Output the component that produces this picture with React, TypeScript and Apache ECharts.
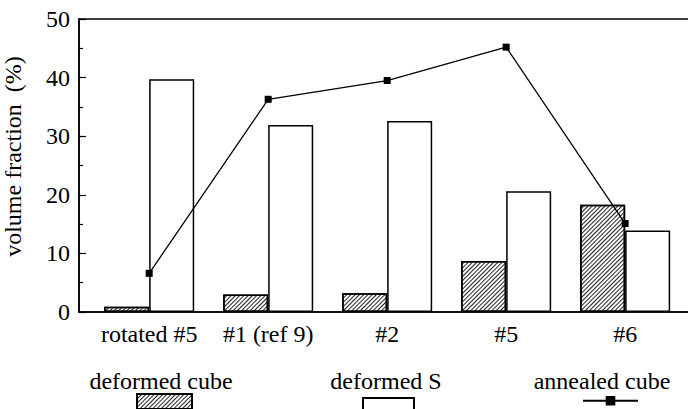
import React, { useEffect, useRef } from "react";
import * as echarts from "echarts";

const categories = ["rotated #5", "#1 (ref 9)", "#2", "#5", "#6"];
const deformedCube = [0.9, 3.0, 3.2, 8.7, 18.3];
const deformedS = [39.7, 31.9, 32.6, 20.6, 13.9];
const annealedCube = [6.6, 36.3, 39.5, 45.2, 15.1];
const yTicks = [0, 10, 20, 30, 40, 50];
const seriesNames = ["deformed cube", "deformed S", "annealed cube"];

const FONT = "'Liberation Serif', 'Times New Roman', serif";
const FS = 24;

export default function App() {
  const ref = useRef<HTMLDivElement>(null);
  useEffect(() => {
    document.body.style.margin = "0";
    if (!ref.current) return;
    const chart = echarts.init(ref.current, null, { renderer: "svg" });
    const idx = categories.map((_, i) => i);
    const legendBase = {
      icon: "rect",
      formatter: () => "",
      padding: 0,
      selectedMode: false,
      textStyle: { fontSize: 4, lineHeight: 4 },
    };
    const legendText = (name: string, cx: number) => ({
      type: "text",
      x: cx,
      y: 369,
      style: { text: name, font: `${FS}px ${FONT}`, fill: "#000", textAlign: "center", textVerticalAlign: "top" },
    });
    chart.setOption({
      animation: false,
      backgroundColor: "#fff",
      textStyle: { fontFamily: FONT, color: "#000" },
      grid: {
        left: 79,
        right: -2,
        top: 19,
        bottom: 97,
        outerBoundsMode: "none",
        containLabel: false,
        show: true,
        borderColor: "#000",
        borderWidth: 1.5,
        backgroundColor: "transparent",
      },
      xAxis: {
        type: "value",
        min: -0.59,
        max: 4.545,
        axisLine: { show: true, onZero: false, lineStyle: { color: "#000", width: 1.5 } },
        axisTick: { show: false },
        splitLine: { show: false },
        axisLabel: {
          customValues: idx,
          formatter: (v: number) => categories[Math.round(v)] ?? "",
          fontFamily: FONT,
          fontSize: FS,
          color: "#000",
          margin: 10,
        },
      },
      yAxis: {
        type: "value",
        min: yTicks[0],
        max: yTicks[yTicks.length - 1],
        interval: 10,
        name: "volume fraction  (%)",
        nameLocation: "middle",
        nameGap: 54,
        nameTextStyle: { fontFamily: FONT, fontSize: FS, color: "#000", padding: [0, 0, 0, 18] },
        axisLine: { show: true, onZero: false, lineStyle: { color: "#000", width: 1.5 } },
        axisTick: { show: true, inside: true, length: 7, lineStyle: { color: "#000", width: 1.2 } },
        minorTick: { show: true, splitNumber: 2, length: 4, lineStyle: { color: "#000", width: 1.2 } },
        splitLine: { show: false },
        axisLabel: { fontFamily: FONT, fontSize: FS, color: "#000", margin: 9 },
      },
      legend: [
        { ...legendBase, data: [seriesNames[0]], left: 136, top: 393, itemWidth: 55, itemHeight: 15 },
        { ...legendBase, data: [seriesNames[1]], left: 362, top: 397, itemWidth: 51, itemHeight: 15 },
        { ...legendBase, icon: undefined, data: [seriesNames[2]], left: 582, top: 396, itemWidth: 55, itemHeight: 12 },
      ],
      graphic: [
        legendText(seriesNames[0], 161),
        legendText(seriesNames[1], 386),
        legendText(seriesNames[2], 602),
      ],
      series: [
        {
          name: seriesNames[0],
          type: "bar",
          data: deformedCube.map((v, i) => [i, v]),
          barWidth: 45,
          barGap: "0%",
          itemStyle: {
            color: "#fff",
            borderColor: "#000",
            borderWidth: 1.5,
            decal: {
              symbol: "rect",
              symbolSize: 1,
              dashArrayX: [[1, 0]],
              dashArrayY: [1, 2],
              rotation: -Math.PI / 4,
              color: "#222",
            },
          },
        },
        {
          name: seriesNames[1],
          type: "bar",
          data: deformedS.map((v, i) => [i, v]),
          barWidth: 45,
          barGap: "0%",
          itemStyle: { color: "#fff", borderColor: "#000", borderWidth: 1.5 },
        },
        {
          name: seriesNames[2],
          type: "line",
          data: annealedCube.map((v, i) => [i, v]),
          symbol: "rect",
          symbolSize: 7,
          lineStyle: { color: "#000", width: 1.3 },
          itemStyle: { color: "#000" },
          z: 5,
        },
      ],
    });
    return () => chart.dispose();
  }, []);
  return <div ref={ref} style={{ width: 688, height: 409 }} />;
}
